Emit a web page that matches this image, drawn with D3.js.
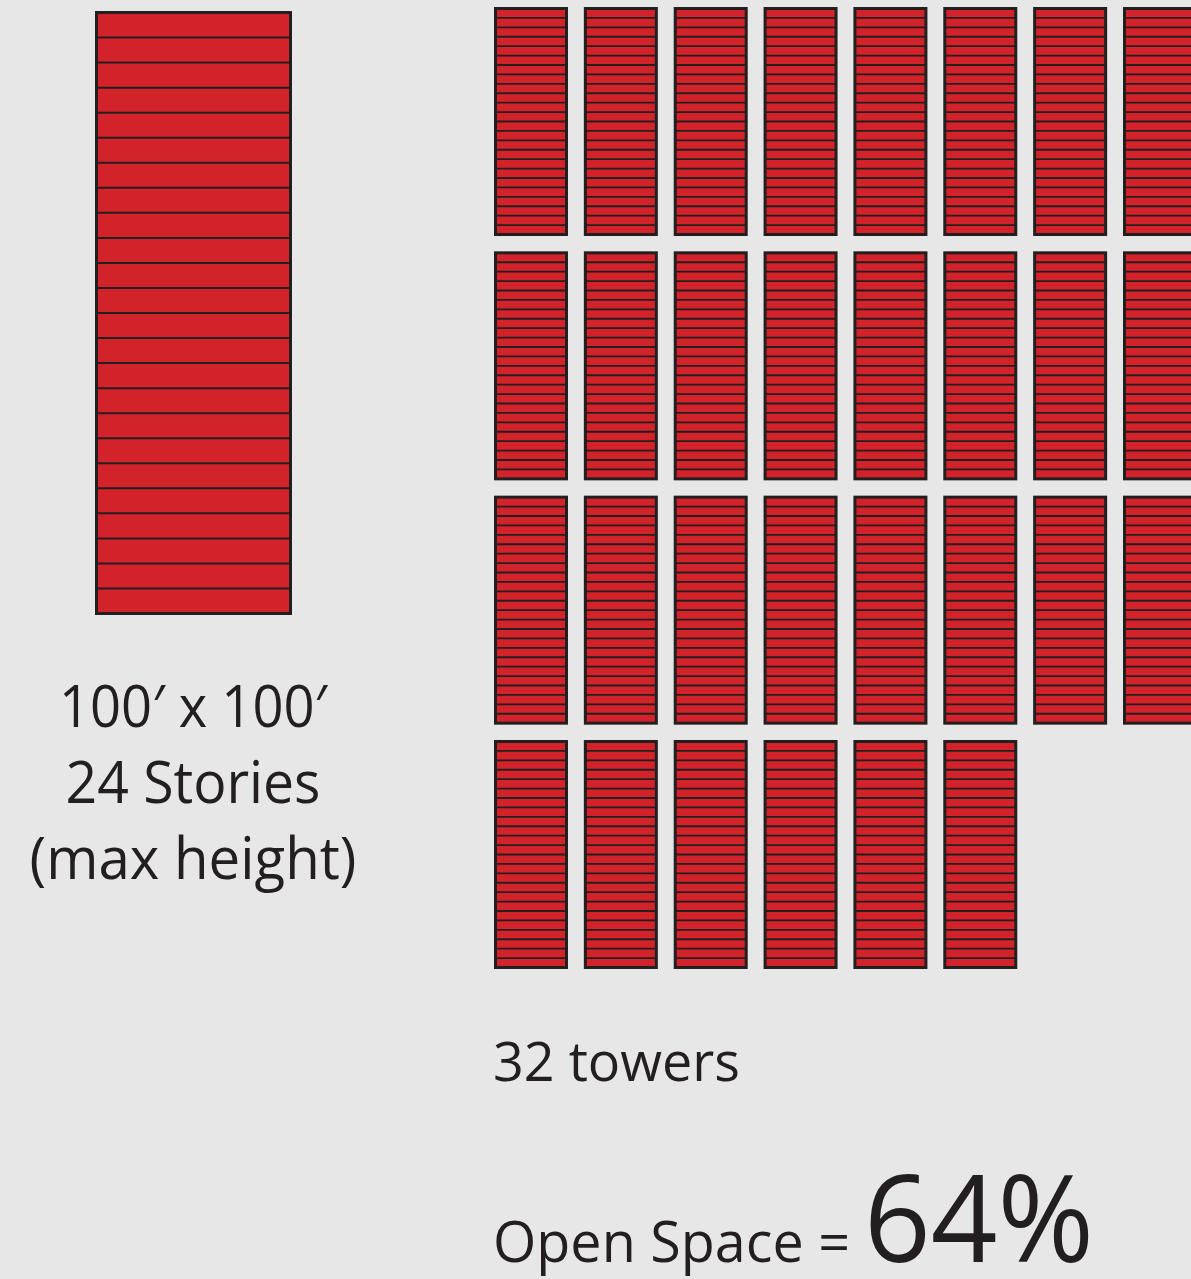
<!DOCTYPE html>
<html>
<head>
<meta charset="utf-8">
<script src="https://cdn.jsdelivr.net/npm/d3@7"></script>
<style>
  html, body { margin: 0; padding: 0; background: #e6e7e6; }
  svg { display: block; }
  text { font-family: "Open Sans", "Noto Sans", sans-serif; fill: #231f20; }
</style>
</head>
<body>
<div id="chart"></div>
<script>
// towers per row in the grid on the right
var rowCounts = [8, 8, 8, 6];
var storyCount = 24;
var bigStoryCount = 24;

var leftLabels = ["100\u2032 x 100\u2032", "24 Stories", "(max height)"];
var towersLabel = "32 towers";
var openLabel = "Open Space =";
var openValue = "64%";

var width = 1191;
var height = 1279;

var red = "#d2232a";
var ink = "#231f20";

var svg = d3
  .select("#chart")
  .append("svg")
  .attr("width", width)
  .attr("height", height);

svg.append("rect")
  .attr("width", width)
  .attr("height", height)
  .attr("fill", "#e6e7e6");

// one tower = outline + floor lines
function drawTower(g, x0, y0, w, h, stories, sw, lw) {
  var y = d3.scaleLinear().domain([0, stories]).range([y0, y0 + h]);
  g.append("rect")
    .attr("x", x0)
    .attr("y", y0)
    .attr("width", w)
    .attr("height", h)
    .attr("fill", red)
    .attr("stroke", ink)
    .attr("stroke-width", sw);
  g.selectAll("line.floor")
    .data(d3.range(1, stories))
    .enter()
    .append("line")
    .attr("class", "floor")
    .attr("x1", x0)
    .attr("x2", x0 + w)
    .attr("y1", function(d) { return y(d); })
    .attr("y2", function(d) { return y(d); })
    .attr("stroke", ink)
    .attr("stroke-width", lw);
}

// big tower on the left
var bigX = d3.scaleLinear().domain([0, 1]).range([96.5, 290.5]);
var bigY = d3.scaleLinear().domain([0, 1]).range([12.5, 613.5]);
drawTower(svg.append("g").attr("class", "big"),
  bigX(0), bigY(0), bigX(1) - bigX(0), bigY(1) - bigY(0), bigStoryCount, 3, 2);

// grid of towers
var xCol = d3.scaleBand()
  .domain(d3.range(d3.max(rowCounts)))
  .range([494, 1197])
  .paddingInner(0.1765);

var yRow = d3.scaleBand()
  .domain(d3.range(rowCounts.length))
  .range([7, 969])
  .paddingInner(0.0627);

var towers = [];
rowCounts.forEach(function(n, r) {
  d3.range(n).forEach(function(c) { towers.push({ row: r, col: c }); });
});

var grid = svg.append("g").attr("class", "grid");
towers.forEach(function(t) {
  var g = grid.append("g");
  drawTower(g, xCol(t.col) + 1.5, yRow(t.row) + 1.5,
    xCol.bandwidth() - 3, yRow.bandwidth() - 3, storyCount, 3, 1.8);
});

// labels
var left = svg.append("g").attr("class", "leftLabels");
left.selectAll("text")
  .data(leftLabels)
  .enter()
  .append("text")
  .attr("x", 193)
  .attr("y", function(d, i) { return 727 + i * 76; })
  .attr("text-anchor", "middle")
  .attr("font-size", 58)
  .attr("textLength", function(d, i) { return [268, 255, 327][i]; })
  .attr("lengthAdjust", "spacingAndGlyphs")
  .text(function(d) { return d; });

svg.append("text")
  .attr("x", 493)
  .attr("y", 1081)
  .attr("font-size", 54)
  .attr("textLength", 247)
  .attr("lengthAdjust", "spacingAndGlyphs")
  .text(towersLabel);

svg.append("text")
  .attr("x", 493)
  .attr("y", 1262)
  .attr("font-size", 56)
  .attr("textLength", 357)
  .attr("lengthAdjust", "spacingAndGlyphs")
  .text(openLabel);

svg.append("text")
  .attr("x", 864)
  .attr("y", 1262)
  .attr("font-size", 120)
  .attr("textLength", 230)
  .attr("lengthAdjust", "spacingAndGlyphs")
  .text(openValue);
</script>
</body>
</html>
